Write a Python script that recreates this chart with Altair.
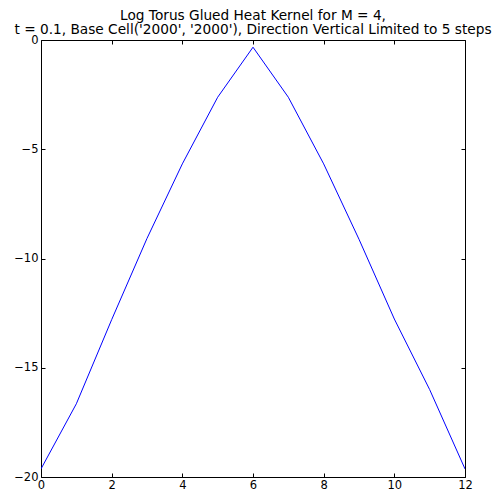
import altair as alt
import pandas as pd

steps = [0, 1, 2, 3, 4, 5, 6, 7, 8, 9, 10, 11, 12]
log_kernel = [-19.63, -16.65, -12.8, -9.08, -5.67, -2.62, -0.33,
              -2.62, -5.67, -9.12, -12.77, -16.0, -19.63]
x_ticks = [0, 2, 4, 6, 8, 10, 12]
y_ticks = [0, -5, -10, -15, -20]
title_lines = ["Log Torus Glued Heat Kernel for M = 4,",
               "t = 0.1, Base Cell('2000', '2000'), Direction Vertical Limited to 5 steps"]

df = pd.DataFrame({"step": steps, "value": log_kernel})

FONT = "DejaVu Sans"
xs = alt.Scale(domain=[0, 12], nice=False, zero=False)
ys = alt.Scale(domain=[-20, 0], nice=False, zero=False)

base = alt.Chart(df)

# main line with labels on bottom/left (no ticks)
main = base.mark_line(color="#0000ff", strokeWidth=1, clip=True).encode(
    x=alt.X("step:Q", scale=xs, title=None,
            axis=alt.Axis(orient="bottom", values=x_ticks, ticks=False, domain=False,
                          grid=False, labelFlush=False, labelPadding=2, format="d")),
    y=alt.Y("value:Q", scale=ys, title=None,
            axis=alt.Axis(orient="left", values=y_ticks, ticks=False, domain=False,
                          grid=False, labelPadding=3, format="d")),
)

tick_len = 4
# inward ticks bottom/left
ticks_bl = base.mark_line(opacity=0).encode(
    x=alt.X("step:Q", scale=xs, title=None,
            axis=alt.Axis(orient="bottom", values=x_ticks, ticks=True, tickSize=tick_len,
                          offset=-tick_len, labels=False, domain=False, grid=False,
                          tickColor="black")),
    y=alt.Y("value:Q", scale=ys, title=None,
            axis=alt.Axis(orient="left", values=y_ticks, ticks=True, tickSize=tick_len,
                          offset=-tick_len, labels=False, domain=False, grid=False,
                          tickColor="black")),
)
# inward ticks top/right
ticks_tr = base.mark_line(opacity=0).encode(
    x=alt.X("step:Q", scale=xs, title=None,
            axis=alt.Axis(orient="top", values=x_ticks, ticks=True, tickSize=tick_len,
                          offset=-tick_len, labels=False, domain=False, grid=False,
                          tickColor="black")),
    y=alt.Y("value:Q", scale=ys, title=None,
            axis=alt.Axis(orient="right", values=y_ticks, ticks=True, tickSize=tick_len,
                          offset=-tick_len, labels=False, domain=False, grid=False,
                          tickColor="black")),
)

chart = alt.layer(main, ticks_bl, ticks_tr).resolve_axis(
    x="independent", y="independent"
).properties(
    width=424,
    height=437,
    padding={"left": 33, "top": 32, "right": 28, "bottom": 13},
    autosize=alt.AutoSizeParams(type="none"),
    background="white",
    title=alt.TitleParams(text=title_lines, font=FONT, fontSize=13.7, fontWeight="normal",
                          anchor="middle", offset=-3, lineHeight=14, color="black"),
).configure_view(
    stroke="black", strokeWidth=1
).configure_axis(
    labelFont=FONT, labelFontSize=11.5, labelColor="black"
)

chart.save("out.html", embed_options={"renderer": "svg", "actions": False})
